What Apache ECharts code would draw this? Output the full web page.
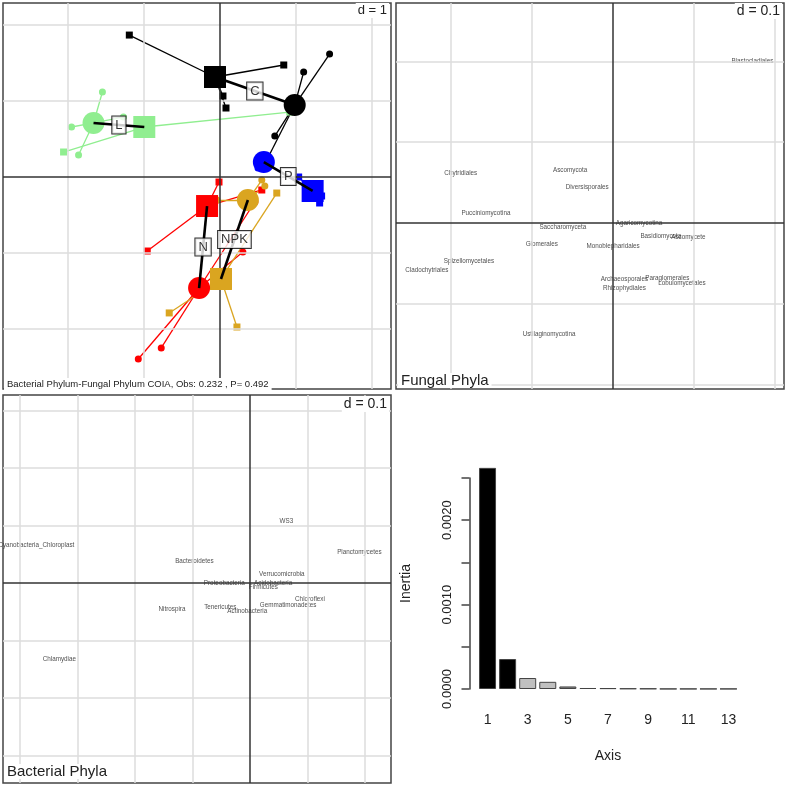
<!DOCTYPE html>
<html>
<head>
<meta charset="utf-8">
<script src="https://cdn.jsdelivr.net/npm/echarts@6/dist/echarts.min.js"></script>
<style>
html, body { margin: 0; padding: 0; background: #fff; }
#chart { width: 787px; height: 787px; }
</style>
</head>
<body>
<div id="chart"></div>
<script>
// treatments (co-inertia panel)
const treatments = ['C', 'L', 'P', 'N', 'NPK'];
const treatColors = ['#000000', '#90ee90', '#0000ff', '#ff0000', '#daa520'];

// class centres: bacterial table = squares, fungal table = circles
const bactCentres = [[-0.066, 1.316], [-0.996, 0.658], [1.219, -0.184], [-0.17, -0.382], [0.013, -1.342]];
const fungCentres = [[0.983, 0.947], [-1.664, 0.711], [0.577, 0.197], [-0.275, -1.461], [0.367, -0.303]];

// replicate samples for each treatment
const bactSamples = [
    [[-1.193, 1.868], [0.839, 1.474], [0.039, 1.066], [0.079, 0.908]],
    [[-2.058, 0.329], [0.917, 0.855]],
    [[1.035, 0.0], [1.337, -0.25], [1.311, -0.342], [1.284, -0.118]],
    [[-0.013, -0.066], [-0.957, -0.974], [0.55, -0.171]],
    [[0.747, -0.211], [-0.668, -1.789], [0.223, -1.974]]
];
const fungSamples = [
    [[1.442, 1.618], [1.101, 1.382], [0.721, 0.539], [0.629, 0.25]],
    [[-1.547, 1.118], [-1.953, 0.658], [-1.861, 0.289], [-1.271, 0.789]],
    [[0.55, 0.25], [0.63, 0.16], [0.5, 0.12]],
    [[-1.075, -2.395], [-0.773, -2.25], [0.301, -0.987], [0.459, -0.329]],
    [[0.55, -0.04], [0.59, -0.118], [-0.04, -0.303]]
];

// fungal phyla scores
const fungalNames = ['Blastocladiales', 'Chytridiales', 'Ascomycota', 'Diversisporales', 'Pucciniomycotina',
    'Saccharomyceta', 'Agaricomycotina', 'Glomerales', 'Monoblepharidales', 'Basidiomycota', 'Ascomycete',
    'Spizellomycetales', 'Cladochytriales', 'Archaeosporales', 'Paraglomerales', 'Lobulomycetales',
    'Rhizophydiales', 'Ustilaginomycotina'];
const fungalX = [0.172, -0.188, -0.053, -0.032, -0.157, -0.062, 0.032, -0.088, 0.0, 0.059, 0.093,
    -0.178, -0.23, 0.014, 0.067, 0.085, 0.014, -0.079];
const fungalY = [0.2, 0.062, 0.065, 0.044, 0.012, -0.005, 0.0, -0.026, -0.028, -0.016, -0.018,
    -0.047, -0.058, -0.069, -0.068, -0.074, -0.081, -0.137];

// bacterial phyla scores
const bactNames = ['WS3', 'Cyanobacteria_Chloroplast', 'Planctomycetes', 'Bacteroidetes', 'Verrucomicrobia',
    'Proteobacteria', 'Acidobacteria', 'Firmicutes', 'Chloroflexi', 'Gemmatimonadetes', 'Nitrospira',
    'Tenericutes', 'Actinobacteria', 'Chlamydiae'];
const bactX = [0.063, -0.372, 0.19, -0.097, 0.055, -0.045, 0.04, 0.023, 0.104, 0.066, -0.136, -0.052, -0.005, -0.332];
const bactY = [0.108, 0.066, 0.054, 0.037, 0.016, 0.0, 0.0, -0.007, -0.028, -0.038, -0.045, -0.043, -0.049, -0.132];

// eigenvalues
const eigAxis = ['1', '2', '3', '4', '5', '6', '7', '8', '9', '10', '11', '12', '13'];
const eigValues = [0.00262, 0.000355, 0.00013, 0.000085, 0.00003, 0.000012, 0.00001, 0.000006, 0.000005,
    0.000002, 0.000002, 0.000002, 0.000002];
const eigColors = ['#000', '#000', '#c0c0c0', '#c0c0c0', '#8c8c8c', '#111', '#111', '#333', '#333',
    '#808080', '#808080', '#808080', '#808080'];

// grid line positions
const coiaTicksX = [-2, -1, 1, 2];
const coiaTicksY = [-2, -1, 1, 2];
const fungTicksX = [-0.2, -0.1, 0.1, 0.2];
const fungTicksY = [-0.2, -0.1, 0.1, 0.2];
const bactTicksX = [-0.4, -0.3, -0.2, -0.1, 0.1, 0.2];
const bactTicksY = [-0.3, -0.2, -0.1, 0.1, 0.2, 0.3];

const FONT = 'Liberation Sans, Arial, sans-serif';

function gridLines(xs, ys) {
    const grey = { color: '#dcdcdc', width: 1.5, type: 'solid' };
    const black = { color: '#333', width: 1.5, type: 'solid' };
    return [
        ...xs.map(v => ({ xAxis: v, lineStyle: grey })),
        ...ys.map(v => ({ yAxis: v, lineStyle: grey })),
        { xAxis: 0, lineStyle: black },
        { yAxis: 0, lineStyle: black }
    ];
}

// invisible carrier series that draws the grid of one panel
function gridSeries(idx, pts, xs, ys) {
    return {
        type: 'scatter', xAxisIndex: idx, yAxisIndex: idx, z: 1, symbolSize: 0, silent: true,
        data: pts,
        markLine: { silent: true, symbol: 'none', label: { show: false }, animation: false, data: gridLines(xs, ys) }
    };
}

function hiddenAxis(gridIndex, min, max) {
    return { gridIndex, type: 'value', min, max, show: false, splitLine: { show: false } };
}

// --- co-inertia panel series ---
const thinLines = [];
treatments.forEach((t, i) => {
    bactSamples[i].forEach(p => thinLines.push({ coords: [bactCentres[i], p], lineStyle: { color: treatColors[i], opacity: 1 } }));
    fungSamples[i].forEach(p => thinLines.push({ coords: [fungCentres[i], p], lineStyle: { color: treatColors[i], opacity: 1 } }));
});
const smallSquares = [];
const smallCircles = [];
treatments.forEach((t, i) => {
    bactSamples[i].forEach(p => smallSquares.push({ value: p, itemStyle: { color: treatColors[i], opacity: 1 } }));
    fungSamples[i].forEach(p => smallCircles.push({ value: p, itemStyle: { color: treatColors[i], opacity: 1 } }));
});

const phylaLabel = { show: true, position: 'inside', formatter: p => p.name, fontSize: 6.3, color: '#222', fontFamily: FONT };

const series = [
    gridSeries(0, bactCentres, coiaTicksX, coiaTicksY),
    gridSeries(1, fungalX.map((x, i) => [x, fungalY[i]]), fungTicksX, fungTicksY),
    gridSeries(2, bactX.map((x, i) => [x, bactY[i]]), bactTicksX, bactTicksY),
    {
        type: 'lines', coordinateSystem: 'cartesian2d', xAxisIndex: 0, yAxisIndex: 0, z: 3,
        lineStyle: { width: 1.3, opacity: 1 }, data: thinLines
    },
    {
        type: 'scatter', xAxisIndex: 0, yAxisIndex: 0, z: 4, symbol: 'rect', symbolSize: 7, data: smallSquares
    },
    {
        type: 'scatter', xAxisIndex: 0, yAxisIndex: 0, z: 4, symbol: 'circle', symbolSize: 7, data: smallCircles
    },
    {
        type: 'scatter', xAxisIndex: 0, yAxisIndex: 0, z: 5, symbol: 'rect', symbolSize: 22,
        data: bactCentres.map((p, i) => ({ value: p, itemStyle: { color: treatColors[i], opacity: 1 } }))
    },
    {
        type: 'scatter', xAxisIndex: 0, yAxisIndex: 0, z: 5, symbol: 'circle', symbolSize: 22,
        data: fungCentres.map((p, i) => ({ value: p, itemStyle: { color: treatColors[i], opacity: 1 } }))
    },
    {
        type: 'lines', coordinateSystem: 'cartesian2d', xAxisIndex: 0, yAxisIndex: 0, z: 6,
        lineStyle: { width: 2.6, color: '#000', opacity: 1 },
        data: treatments.map((t, i) => ({ coords: [bactCentres[i], fungCentres[i]] }))
    },
    {
        type: 'scatter', xAxisIndex: 0, yAxisIndex: 0, z: 7, symbolSize: 1,
        itemStyle: { color: '#fff' },
        data: treatments.map((t, i) => ({
            name: t,
            value: [(bactCentres[i][0] + fungCentres[i][0]) / 2, (bactCentres[i][1] + fungCentres[i][1]) / 2]
        })),
        label: {
            show: true, position: 'inside', formatter: p => p.name, fontSize: 13, color: '#000',
            backgroundColor: '#fff', borderColor: '#000', borderWidth: 1, padding: [2, 3], fontFamily: FONT
        }
    },
    // fungal phyla
    {
        type: 'scatter', xAxisIndex: 1, yAxisIndex: 1, z: 3, symbolSize: 0,
        data: fungalNames.map((n, i) => ({ name: n, value: [fungalX[i], fungalY[i]] })),
        label: phylaLabel
    },
    // bacterial phyla
    {
        type: 'scatter', xAxisIndex: 2, yAxisIndex: 2, z: 3, symbolSize: 0,
        data: bactNames.map((n, i) => ({ name: n, value: [bactX[i], bactY[i]] })),
        label: phylaLabel
    },
    // eigenvalues
    {
        type: 'bar', xAxisIndex: 3, yAxisIndex: 3, barWidth: 17, clip: false,
        itemStyle: { borderColor: '#444', borderWidth: 1 },
        data: eigValues.map((v, i) => ({ value: v, itemStyle: { color: eigColors[i] } }))
    }
];

const boxStyle = { show: true, borderColor: '#444', borderWidth: 1.5, backgroundColor: '#fff' };
const titleText = (size) => ({ fontSize: size, fontWeight: 'normal', color: '#222', fontFamily: FONT });

const option = {
    animation: false,
    textStyle: { fontFamily: FONT },
    title: [
        { text: 'd = 1', right: 398, top: 3, padding: [1, 2], backgroundColor: '#fff', textStyle: titleText(13) },
        { text: 'd = 0.1', right: 5, top: 3, padding: [1, 2], backgroundColor: '#fff', textStyle: titleText(14) },
        { text: 'd = 0.1', right: 398, top: 396, padding: [1, 2], backgroundColor: '#fff', textStyle: titleText(14) },
        {
            text: 'Bacterial Phylum-Fungal Phylum COIA, Obs: 0.232 , P= 0.492', left: 4, top: 378,
            padding: [1, 3], backgroundColor: '#fff', textStyle: titleText(9.5)
        },
        { text: 'Fungal Phyla', left: 398, top: 373, padding: [0, 3], backgroundColor: '#fff', textStyle: titleText(15) },
        { text: 'Bacterial Phyla', left: 4, top: 764, padding: [0, 3], backgroundColor: '#fff', textStyle: titleText(15) }
    ],
    grid: [
        Object.assign({ left: 3, top: 3, width: 388, height: 386 }, boxStyle),
        Object.assign({ left: 396, top: 3, width: 388, height: 386 }, boxStyle),
        Object.assign({ left: 3, top: 395, width: 388, height: 388 }, boxStyle),
        { left: 477.5, top: 478, width: 261, height: 211 }
    ],
    xAxis: [
        hiddenAxis(0, -2.855, 2.25),
        hiddenAxis(1, -0.268, 0.211),
        hiddenAxis(2, -0.43, 0.245),
        {
            gridIndex: 3, type: 'category', data: eigAxis,
            axisLine: { show: false }, axisTick: { show: false },
            axisLabel: { interval: 1, fontSize: 14, margin: 24, color: '#222' },
            name: 'Axis', nameLocation: 'middle', nameGap: 60,
            nameTextStyle: { fontSize: 14, color: '#222' }
        }
    ],
    yAxis: [
        hiddenAxis(0, -2.79, 2.29),
        hiddenAxis(1, -0.205, 0.272),
        hiddenAxis(2, -0.348, 0.327),
        {
            gridIndex: 3, type: 'value', min: 0, max: 0.0025, interval: 0.0005, offset: 8,
            axisLine: { show: true, lineStyle: { color: '#444', width: 1.5 } },
            axisTick: { show: true, length: 8, lineStyle: { color: '#444', width: 1.5 } },
            splitLine: { show: false },
            axisLabel: {
                rotate: 90, fontSize: 13, margin: 16, color: '#222',
                formatter: v => (Math.round(v * 10000) % 10 === 0 ? v.toFixed(4) : '')
            },
            name: 'Inertia', nameLocation: 'middle', nameGap: 56, nameRotate: 90,
            nameTextStyle: { fontSize: 14, color: '#222' }
        }
    ],
    series
};

const myChart = echarts.init(document.getElementById('chart'));
myChart.setOption(option);
</script>
</body>
</html>
